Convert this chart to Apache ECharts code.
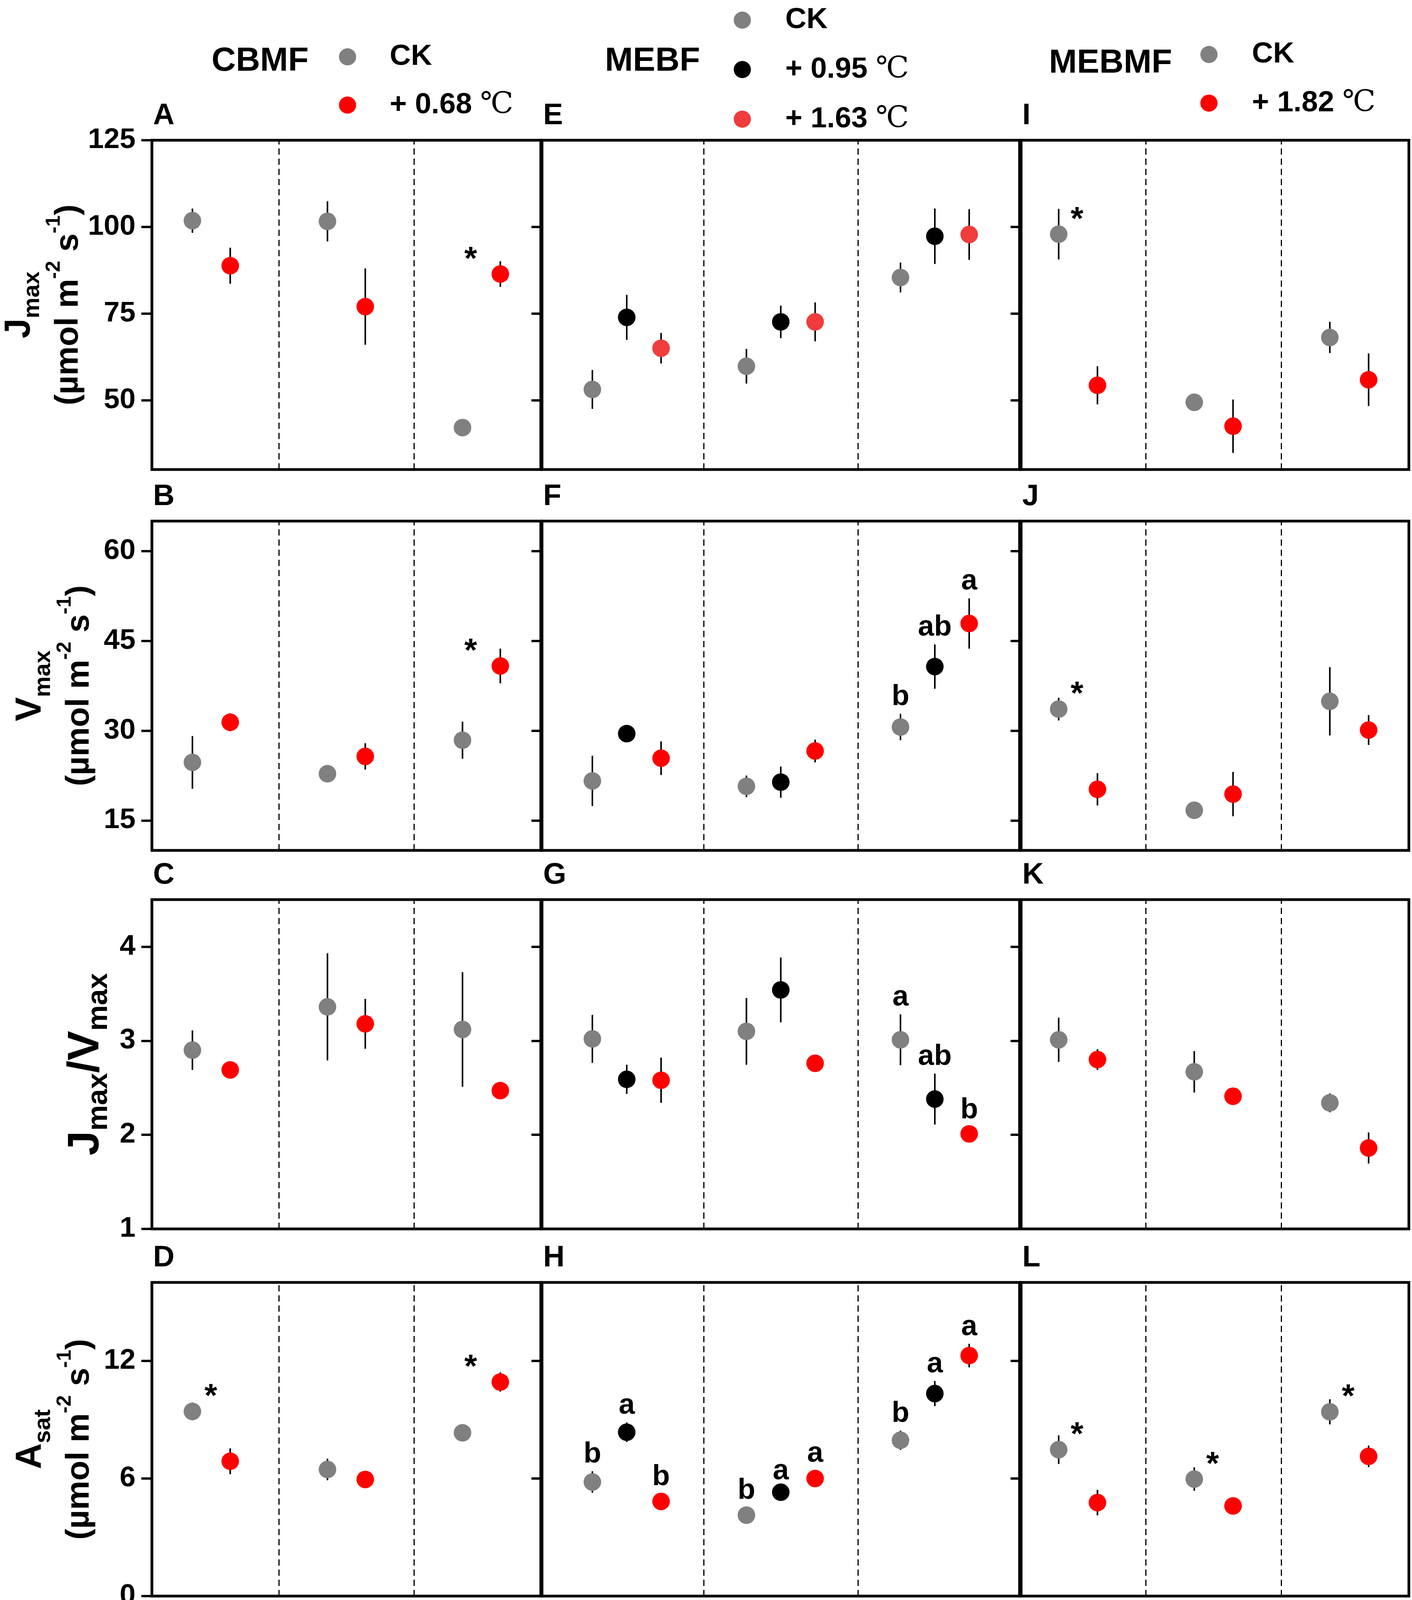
<!DOCTYPE html>
<html>
<head>
<meta charset="utf-8">
<script src="https://cdn.jsdelivr.net/npm/echarts@6/dist/echarts.min.js"></script>
<style>
  html, body { margin: 0; padding: 0; background: #fff; }
  #chart { width: 3616px; height: 4390px; }
</style>
</head>
<body>
<div id="chart"></div>
<script>
/* Jmax / Vmax / Jmax:Vmax / Asat of three species under warming, three forests */
const species = ['M.breviflora', 'S.rehderianum', 'S. superba'];
const forests = ['CBMF', 'MEBF', 'MEBMF'];
const treatments = [['CK', '+ 0.68 ℃'], ['CK', '+ 0.95 ℃', '+ 1.63 ℃'], ['CK', '+ 1.82 ℃']];

// each entry: [mean, se] for M.breviflora, S.rehderianum, S. superba
const A_CK = [[101.8, 3.5], [101.6, 5.8], [42.1, 2.4]];
const A_W  = [[88.8, 5.2], [77.0, 11.0], [86.4, 3.7]];
const E_CK = [[53.1, 5.6], [59.8, 5.0], [85.4, 4.3]];
const E_W1 = [[73.9, 6.5], [72.6, 4.7], [97.3, 8.0]];
const E_W2 = [[65.0, 4.4], [72.6, 5.6], [97.8, 7.3]];
const I_CK = [[97.9, 7.3], [49.4, 2.4], [68.1, 4.5]];
const I_W  = [[54.3, 5.5], [42.5, 7.7], [55.9, 7.6]];

const B_CK = [[24.7, 4.4], [22.8, 1.4], [28.4, 3.1]];
const B_W  = [[31.4, 1.5], [25.7, 2.2], [40.8, 2.9]];
const F_CK = [[21.6, 4.2], [20.7, 1.8], [30.6, 2.2]];
const F_W1 = [[29.5, 0.8], [21.4, 2.6], [40.7, 3.7]];
const F_W2 = [[25.4, 2.8], [26.6, 1.9], [47.9, 4.2]];
const J_CK = [[33.6, 1.9], [16.7, 1.3], [34.9, 5.7]];
const J_W  = [[20.2, 2.7], [19.4, 3.7], [30.1, 2.5]];

const C_CK = [[2.90, 0.21], [3.36, 0.57], [3.12, 0.61]];
const C_W  = [[2.69, 0.08], [3.18, 0.265], [2.47, 0.07]];
const G_CK = [[3.02, 0.255], [3.10, 0.355], [3.01, 0.27]];
const G_W1 = [[2.59, 0.155], [3.54, 0.345], [2.38, 0.27]];
const G_W2 = [[2.58, 0.24], [2.76, 0.07], [2.01, 0.07]];
const K_CK = [[3.01, 0.235], [2.67, 0.22], [2.34, 0.10]];
const K_W  = [[2.80, 0.11], [2.41, 0.09], [1.86, 0.165]];

const D_CK = [[9.42, 0.45], [6.46, 0.55], [8.33, 0.40]];
const D_W  = [[6.88, 0.66], [5.95, 0.35], [10.92, 0.49]];
const H_CK = [[5.82, 0.55], [4.13, 0.39], [7.95, 0.49]];
const H_W1 = [[8.36, 0.50], [5.30, 0.20], [10.33, 0.64]];
const H_W2 = [[4.83, 0.38], [6.00, 0.40], [12.27, 0.60]];
const L_CK = [[7.47, 0.73], [5.97, 0.60], [9.40, 0.64]];
const L_W  = [[4.77, 0.65], [4.60, 0.37], [7.13, 0.55]];

// significance marks, one row per treatment
const NONE2 = [['', '', ''], ['', '', '']];
const A_marks = [['', '', ''], ['', '', '*']];
const B_marks = [['', '', ''], ['', '', '*']];
const D_marks = [['*', '', ''], ['', '', '*']];
const E_marks = [['', '', ''], ['', '', ''], ['', '', '']];
const F_marks = [['', '', 'b'], ['', '', 'ab'], ['', '', 'a']];
const G_marks = [['', '', 'a'], ['', '', 'ab'], ['', '', 'b']];
const H_marks = [['b', 'b', 'b'], ['a', 'a', 'a'], ['b', 'a', 'a']];
const I_marks = [['*', '', ''], ['', '', '']];
const J_marks = [['*', '', ''], ['', '', '']];
const K_marks = [['', '', '*'], ['', '', '']];
const L_marks = [['*', '*', '*'], ['', '', '']];

const yMin = [30, 10, 1, 0];
const yMax = [125, 65, 4.5, 16];
const yTicks = [[50, 75, 100, 125], [15, 30, 45, 60], [1, 2, 3, 4], [0, 6, 12]];
const dividers = [1.5, 2.5];
const panelLetters = [['A', 'E', 'I'], ['B', 'F', 'J'], ['C', 'G', 'K'], ['D', 'H', 'L']];

const panels = [
  [{ s: [A_CK, A_W], m: A_marks }, { s: [E_CK, E_W1, E_W2], m: E_marks }, { s: [I_CK, I_W], m: I_marks }],
  [{ s: [B_CK, B_W], m: B_marks }, { s: [F_CK, F_W1, F_W2], m: F_marks }, { s: [J_CK, J_W], m: J_marks }],
  [{ s: [C_CK, C_W], m: NONE2 }, { s: [G_CK, G_W1, G_W2], m: G_marks }, { s: [K_CK, K_W], m: NONE2 }],
  [{ s: [D_CK, D_W], m: D_marks }, { s: [H_CK, H_W1, H_W2], m: H_marks }, { s: [L_CK, L_W], m: L_marks }]
];

/* ---- layout / style ---- */
const FONT = '"Liberation Sans", Arial, sans-serif';
const SERIF = '"Liberation Serif", "DejaVu Serif", "Noto Sans CJK SC", serif';
const colLeft = [389, 1388, 2615], colWidth = [996, 1223, 993];
const rowTop = [359, 1334, 2303, 3283], rowHeight = 843;
const xRange = [[0.56, 3.44], [0.45, 3.55], [0.58, 3.44]];
const offsets = [[-0.14, 0.14], [-0.223, 0, 0.223], [-0.143, 0.143]];
const colors = [['#808080', '#ff0000'], ['#808080', '#000000', '#ff0000'], ['#808080', '#ff0000']];
const labelShift = 0.36;
const nameGap = [151, 123, 98, 123];

const unitLine = '{u|(µmol m}{p|-2}{u| s}{p|-1}{u|)}';
const yNames = [
  '{m|J}{s|max}\n' + unitLine,
  '{m|V}{s|max}\n' + unitLine,
  '{M|J}{S|max}{M|/V}{S|max}',
  '{m|A}{s|sat}\n' + unitLine
];
const nameRich = {
  m: { fontSize: 92, fontWeight: 'bold', fontFamily: FONT, color: '#000', lineHeight: 125 },
  s: { fontSize: 60, fontWeight: 'bold', fontFamily: FONT, color: '#000', lineHeight: 92, verticalAlign: 'bottom' },
  M: { fontSize: 114, fontWeight: 'bold', fontFamily: FONT, color: '#000', lineHeight: 140 },
  S: { fontSize: 74, fontWeight: 'bold', fontFamily: FONT, color: '#000', lineHeight: 104, verticalAlign: 'bottom' },
  u: { fontSize: 84, fontWeight: 'bold', fontFamily: FONT, color: '#000', lineHeight: 125 },
  p: { fontSize: 52, fontWeight: 'bold', fontFamily: FONT, color: '#000', lineHeight: 88, verticalAlign: 'top' }
};

const grids = [], xAxes = [], yAxes = [], series = [], graphics = [];

panels.forEach((row, r) => row.forEach((p, c) => {
  const gi = grids.length;
  grids.push({ left: colLeft[c], top: rowTop[r], width: colWidth[c], height: rowHeight,
    show: true, borderColor: '#000', borderWidth: 7, backgroundColor: 'transparent' });
  xAxes.push({
    gridIndex: gi, type: 'value', min: xRange[c][0], max: xRange[c][1],
    axisLine: { show: false }, axisTick: { show: false }, splitLine: { show: false },
    axisLabel: r === 3 ? {
      show: true, customValues: species.map((_, i) => i + 1 + labelShift),
      formatter: v => species[Math.round(v - labelShift) - 1],
      rotate: 20, margin: 68, fontSize: 82, fontWeight: 'bold', fontStyle: 'italic',
      fontFamily: FONT, color: '#000'
    } : { show: false }
  });
  yAxes.push({
    gridIndex: gi, type: 'value', min: yMin[r], max: yMax[r],
    axisLine: { show: false }, splitLine: { show: false },
    axisTick: { show: true, inside: false, length: 27, customValues: yTicks[r], lineStyle: { color: '#000', width: 6 } },
    axisLabel: c === 0 ? { show: true, customValues: yTicks[r], margin: 42, fontSize: 73, fontWeight: 'bold',
      fontFamily: FONT, color: '#000' } : { show: false },
    name: c === 0 ? yNames[r] : '', nameLocation: 'middle', nameRotate: 90, nameGap: nameGap[r],
    nameTextStyle: { rich: nameRich }
  });

  p.s.forEach((data, k) => {
    const xs = data.map((_, i) => i + 1 + offsets[c][k]);
    const color = (r === 0 && c === 1 && k === 2) ? '#f03c3c' : colors[c][k];
    const marks = p.m[k];
    series.push({
      type: 'scatter', name: treatments[c][k], xAxisIndex: gi, yAxisIndex: gi,
      data: data.map((d, i) => [xs[i], d[0]]), symbol: 'circle', symbolSize: 45,
      itemStyle: { color, opacity: 1 }, z: 4, silent: true,
      markLine: k === 0 ? {
        silent: true, symbol: ['none', 'none'], label: { show: false },
        lineStyle: { color: '#000', width: 3, type: [16, 10] },
        data: dividers.map(v => ({ xAxis: v }))
      } : undefined
    });
    // error bars + significance marks
    series.push({
      type: 'custom', xAxisIndex: gi, yAxisIndex: gi, z: 3, silent: true,
      encode: { x: 0, y: [1, 2, 3] },
      data: data.map((d, i) => [xs[i], d[0] - d[1], d[0] + d[1], d[0]]),
      renderItem: (params, api) => {
        const x = api.value(0);
        const lo = api.coord([x, api.value(1)]), hi = api.coord([x, api.value(2)]), mid = api.coord([x, api.value(3)]);
        const children = [{ type: 'line', shape: { x1: lo[0], y1: lo[1], x2: hi[0], y2: hi[1] },
          style: { stroke: '#000', lineWidth: 4 } }];
        const mk = marks[params.dataIndex];
        if (mk === '*') {
          children.push({ type: 'text', x: mid[0] + (k === 0 ? 47 : -76), y: mid[1] - 35,
            style: { text: '*', fontSize: 84, fontWeight: 'bold', fontFamily: FONT, fill: '#000', align: 'center', verticalAlign: 'middle' } });
        } else if (mk) {
          children.push({ type: 'text', x: hi[0], y: hi[1] - 6,
            style: { text: mk, fontSize: 74, fontWeight: 'bold', fontFamily: FONT, fill: '#000', align: 'center', verticalAlign: 'bottom' } });
        }
        return { type: 'group', children };
      }
    });
  });

  graphics.push({ type: 'text', x: colLeft[c] + 3, y: rowTop[r] - 24, silent: true,
    style: { text: panelLetters[r][c], fontSize: 76, fontWeight: 'bold', fontFamily: FONT, fill: '#000', align: 'left', verticalAlign: 'bottom' } });
}));

// forest names above the columns
const titleX = [666, 1671, 2844], titleY = [157, 157, 162];
forests.forEach((f, c) => graphics.push({ type: 'text', x: titleX[c], y: titleY[c], silent: true,
  style: { text: f, fontSize: 86, fontWeight: 'bold', fontFamily: FONT, fill: '#000', align: 'center', verticalAlign: 'middle' } }));

const legendPos = [[868, 108, 48], [1879, 14, 51], [3074, 102, 49]];
const legends = treatments.map((names, c) => ({
  data: names, orient: 'vertical', left: legendPos[c][0], top: legendPos[c][1], itemGap: legendPos[c][2],
  itemWidth: 44, itemHeight: 44, icon: 'circle', selectedMode: false, padding: 0,
  formatter: n => n.includes('℃') ? '{t|' + n.replace('℃', '') + '}{c|℃}' : '{t|' + n + '}',
  textStyle: {
    padding: [0, 0, 0, c === 0 ? 81 : 83],
    rich: {
      t: { fontSize: 75, fontWeight: 'bold', fontFamily: FONT, color: '#000', lineHeight: 44 },
      c: { fontSize: 76, fontWeight: 'normal', fontFamily: SERIF, color: '#000', lineHeight: 44 }
    }
  }
}));

const chart = echarts.init(document.getElementById('chart'));
chart.setOption({
  animation: false,
  backgroundColor: '#fff',
  grid: grids, xAxis: xAxes, yAxis: yAxes,
  legend: legends,
  graphic: graphics,
  series
});
</script>
</body>
</html>
